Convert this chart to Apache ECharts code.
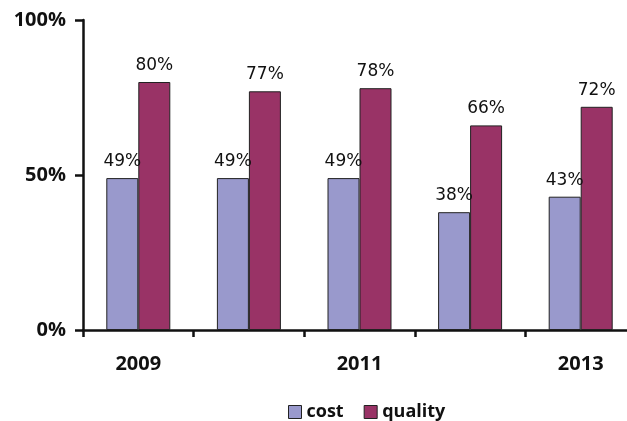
<!DOCTYPE html>
<html>
<head>
<meta charset="utf-8">
<script src="https://cdn.jsdelivr.net/npm/echarts@6/dist/echarts.min.js"></script>
<style>
html, body { margin: 0; padding: 0; background: #fff; overflow: hidden; }
#chart { width: 640px; height: 421px; }
</style>
</head>
<body>
<div id="chart"></div>
<script>
// data
const years = ['2009', '2010', '2011', '2012', '2013'];
const cost = [49, 49, 49, 38, 43];
const quality = [80, 77, 78, 66, 72];
const yTicks = [0, 50, 100];

// canvas is a bit wider than the window so the x axis runs off the right edge like the original
const chart = echarts.init(document.getElementById('chart'));

const labelStyle = {
  show: true,
  position: 'top',
  distance: 8,
  formatter: p => p.value + '%',
  color: '#111',
  fontSize: 17,
  fontFamily: 'DejaVu Sans'
};

const option = {
  animation: false,
  grid: { left: 83, top: 20, width: 553, height: 310, containLabel: false },
  legend: {
    top: 398,
    left: 283,
    itemWidth: 13,
    itemHeight: 13,
    itemGap: 20,
    icon: 'rect',
    itemStyle: { borderColor: '#222', borderWidth: 1 },
    textStyle: { fontSize: 18, fontWeight: 'bold', color: '#111', fontFamily: 'Open Sans' },
    data: ['cost', 'quality']
  },
  xAxis: {
    type: 'category',
    data: years,
    axisLine: { lineStyle: { color: '#111', width: 2.5 } },
    axisTick: { show: true, interval: 0, length: 7, inside: false, lineStyle: { color: '#111', width: 2.5 } },
    axisLabel: {
      interval: 1,
      margin: 24,
      fontSize: 20,
      fontWeight: 'bold',
      color: '#111',
      fontFamily: 'Open Sans'
    }
  },
  yAxis: {
    type: 'value',
    min: 0,
    max: 100,
    interval: 50,
    splitLine: { show: false },
    axisLine: { show: true, lineStyle: { color: '#111', width: 2.5 } },
    axisTick: { show: true, length: 8, lineStyle: { color: '#111', width: 2.5 } },
    axisLabel: {
      margin: 17,
      fontSize: 20,
      fontWeight: 'bold',
      color: '#111',
      fontFamily: 'Open Sans',
      formatter: v => yTicks.includes(v) ? v + '%' : ''
    }
  },
  series: [
    {
      name: 'cost',
      type: 'bar',
      data: cost,
      barWidth: 32,
      barGap: '0%',
      itemStyle: { color: '#9999cc', borderColor: '#222', borderWidth: 1 },
      label: labelStyle
    },
    {
      name: 'quality',
      type: 'bar',
      data: quality,
      barWidth: 32,
      itemStyle: { color: '#993366', borderColor: '#222', borderWidth: 1 },
      label: labelStyle
    }
  ]
};

chart.setOption(option);
</script>
</body>
</html>
